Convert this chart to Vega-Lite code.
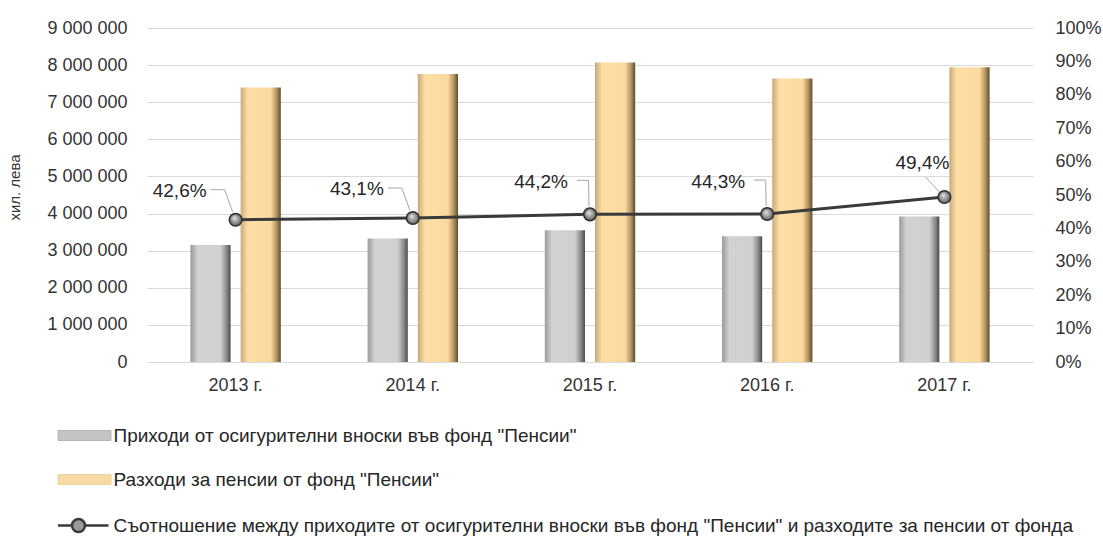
{
  "$schema": "https://vega.github.io/schema/vega-lite/v6.json",
  "width": 886,
  "height": 334,
  "autosize": "none",
  "padding": {"left": 147, "top": 28, "right": 70, "bottom": 175},
  "background": "white",
  "config": {
    "view": {"stroke": null},
    "locale": {"number": {"decimal": ",", "thousands": " ", "grouping": [3], "currency": ["", " лв."]}},
    "font": "Liberation Sans",
    "axis": {"labelFont": "Liberation Sans", "labelColor": "#333333", "labelFontSize": 18, "domain": false, "ticks": false, "titleFont": "Liberation Sans"}
  },
  "datasets": {
    "bars": [
      {"year": "2013 г.", "series": "Приходи от осигурителни вноски във фонд \"Пенсии\"", "value": 3150000},
      {"year": "2014 г.", "series": "Приходи от осигурителни вноски във фонд \"Пенсии\"", "value": 3330000},
      {"year": "2015 г.", "series": "Приходи от осигурителни вноски във фонд \"Пенсии\"", "value": 3550000},
      {"year": "2016 г.", "series": "Приходи от осигурителни вноски във фонд \"Пенсии\"", "value": 3390000},
      {"year": "2017 г.", "series": "Приходи от осигурителни вноски във фонд \"Пенсии\"", "value": 3920000},
      {"year": "2013 г.", "series": "Разходи за пенсии от фонд \"Пенсии\"", "value": 7400000},
      {"year": "2014 г.", "series": "Разходи за пенсии от фонд \"Пенсии\"", "value": 7760000},
      {"year": "2015 г.", "series": "Разходи за пенсии от фонд \"Пенсии\"", "value": 8070000},
      {"year": "2016 г.", "series": "Разходи за пенсии от фонд \"Пенсии\"", "value": 7640000},
      {"year": "2017 г.", "series": "Разходи за пенсии от фонд \"Пенсии\"", "value": 7940000}
    ],
    "ratio": [
      {"year": "2013 г.", "ratio": 0.426},
      {"year": "2014 г.", "ratio": 0.431},
      {"year": "2015 г.", "ratio": 0.442},
      {"year": "2016 г.", "ratio": 0.443},
      {"year": "2017 г.", "ratio": 0.494}
    ]
  },
  "encoding": {
    "x": {
      "field": "year", "type": "nominal", "title": null,
      "scale": {"paddingInner": 0.49, "paddingOuter": 0.245},
      "axis": {"labelAngle": 0, "labelPadding": 14, "grid": false}
    }
  },
  "layer": [
    {
      "data": {"name": "bars"},
      "encoding": {
        "xOffset": {"field": "series", "type": "nominal", "scale": {"domain": ["Приходи от осигурителни вноски във фонд \"Пенсии\"", "Разходи за пенсии от фонд \"Пенсии\""], "paddingInner": 0.2, "paddingOuter": 0}},
        "y": {
          "field": "value", "type": "quantitative", "title": "хил. лева",
          "scale": {"domain": [0, 9000000], "nice": false},
          "axis": {"orient": "left", "values": [0, 1000000, 2000000, 3000000, 4000000, 5000000, 6000000, 7000000, 8000000, 9000000], "format": ",.0f", "grid": true, "gridColor": "#d9d9d9", "gridWidth": 1, "labelPadding": 20, "titleFontSize": 15, "titleFontWeight": "normal", "titleColor": "#333333", "titlePadding": 24, "titleY": 159}
        }
      },
      "layer": [
        {
          "transform": [{"filter": "datum.value < 5000000"}],
          "mark": {"type": "bar", "fill": {"gradient": "linear", "x1": 0, "y1": 0, "x2": 1, "y2": 0, "stops": [{"offset": 0, "color": "#9a9a9a"}, {"offset": 0.18, "color": "#d2d2d2"}, {"offset": 0.75, "color": "#cfcfcf"}, {"offset": 0.9, "color": "#8a8a8a"}, {"offset": 1, "color": "#4a4a4a"}]}}
        },
        {
          "transform": [{"filter": "datum.value >= 5000000"}],
          "mark": {"type": "bar", "fill": {"gradient": "linear", "x1": 0, "y1": 0, "x2": 1, "y2": 0, "stops": [{"offset": 0, "color": "#c9a877"}, {"offset": 0.18, "color": "#fddfa6"}, {"offset": 0.75, "color": "#fbd99f"}, {"offset": 0.9, "color": "#b0925f"}, {"offset": 1, "color": "#5e4a2c"}]}}
        }
      ]
    },
    {
      "data": {"name": "ratio"},
      "encoding": {
        "y": {
          "field": "ratio", "type": "quantitative",
          "scale": {"domain": [0, 1], "nice": false},
          "axis": {"orient": "right", "title": null, "values": [0, 0.1, 0.2, 0.3, 0.4, 0.5, 0.6, 0.7, 0.8, 0.9, 1], "format": ".0%", "grid": false, "labelPadding": 22}
        }
      },
      "layer": [
        {
          "mark": {"type": "line", "strokeWidth": 3},
          "encoding": {
            "color": {
              "datum": "Съотношение между приходите от осигурителни вноски във фонд \"Пенсии\" и разходите за пенсии от фонда",
              "scale": {"domain": ["Приходи от осигурителни вноски във фонд \"Пенсии\"", "Разходи за пенсии от фонд \"Пенсии\"", "Съотношение между приходите от осигурителни вноски във фонд \"Пенсии\" и разходите за пенсии от фонда"], "range": ["#b5b5b5", "#f3d29a", "#3a3a3a"]},
              "legend": {
                "orient": "none", "legendX": -72, "legendY": 398, "direction": "vertical", "title": null, "padding": 0,
                "symbolSize": 400, "labelFontSize": 19, "labelFont": "Liberation Sans", "labelColor": "#262626", "labelLimit": 1200, "labelOffset": 19.5, "rowPadding": 24,
                "encode": {
                  "symbols": {
                    "update": {
                      "shape": {"signal": "datum.index < 2 ? 'M-2.65,-0.5H2.65V0.5H-2.65Z' : 'M-2.65,0H-1.25M0.05,0H2.4M-1.25,0A0.65,0.65 0 1,1 0.05,0A0.65,0.65 0 1,1 -1.25,0'"},
                      "fill": {"signal": "datum.index == 0 ? '#c4c4c4' : datum.index == 1 ? '#f6d9a3' : '#9a9a9a'"},
                      "stroke": {"signal": "datum.index == 0 ? '#6a6a6a' : datum.index == 1 ? '#8a6d40' : '#2e2e2e'"},
                      "strokeWidth": {"signal": "datum.index < 2 ? 1 : 2.5"},
                      "opacity": {"value": 1},
                      "size": {"value": 400}
                    }
                  }
                }
              }
            }
          }
        },
        {
          "mark": {"type": "point", "filled": true, "size": 160, "opacity": 1, "stroke": "#2e2e2e", "strokeWidth": 1.5, "fill": {"gradient": "radial", "x1": 0.4, "y1": 0.35, "r1": 0, "x2": 0.5, "y2": 0.5, "r2": 0.55, "stops": [{"offset": 0, "color": "#e6e6e6"}, {"offset": 1, "color": "#555555"}]}}
        },
        {
          "transform": [{"filter": "datum.year === '2013 г.' || datum.year === '2014 г.'"}],
          "layer": [
            {"mark": {"type": "rule", "color": "#a6a6a6", "strokeWidth": 1, "xOffset": -25, "yOffset": -30, "x2Offset": -11, "y2Offset": -30}, "encoding": {"x2": {"field": "year", "bandPosition": 0.5}, "y2": {"field": "ratio"}}},
            {"mark": {"type": "rule", "color": "#a6a6a6", "strokeWidth": 1, "xOffset": -11, "yOffset": -30, "x2Offset": -3, "y2Offset": -8}, "encoding": {"x2": {"field": "year", "bandPosition": 0.5}, "y2": {"field": "ratio"}}},
            {"mark": {"type": "text", "align": "right", "baseline": "middle", "dx": -29, "dy": -29, "fontSize": 19, "color": "#262626", "font": "Liberation Sans"}, "encoding": {"text": {"field": "ratio", "type": "quantitative", "format": ".1%"}}}
          ]
        },
        {
          "transform": [{"filter": "datum.year === '2015 г.' || datum.year === '2016 г.'"}],
          "layer": [
            {"mark": {"type": "rule", "color": "#a6a6a6", "strokeWidth": 1, "xOffset": -13, "yOffset": -34, "x2Offset": -1.5, "y2Offset": -34}, "encoding": {"x2": {"field": "year", "bandPosition": 0.5}, "y2": {"field": "ratio"}}},
            {"mark": {"type": "rule", "color": "#a6a6a6", "strokeWidth": 1, "xOffset": -1.5, "yOffset": -34, "x2Offset": -1, "y2Offset": -8}, "encoding": {"x2": {"field": "year", "bandPosition": 0.5}, "y2": {"field": "ratio"}}},
            {"mark": {"type": "text", "align": "right", "baseline": "middle", "dx": -22, "dy": -32, "fontSize": 19, "color": "#262626", "font": "Liberation Sans"}, "encoding": {"text": {"field": "ratio", "type": "quantitative", "format": ".1%"}}}
          ]
        },
        {
          "transform": [{"filter": "datum.year === '2017 г.'"}],
          "layer": [
            {"mark": {"type": "rule", "color": "#a6a6a6", "strokeWidth": 1, "xOffset": -19, "yOffset": -20, "x2Offset": -5, "y2Offset": -5}, "encoding": {"x2": {"field": "year", "bandPosition": 0.5}, "y2": {"field": "ratio"}}},
            {"mark": {"type": "text", "align": "center", "baseline": "middle", "dx": -22, "dy": -34, "fontSize": 19, "color": "#262626", "font": "Liberation Sans"}, "encoding": {"text": {"field": "ratio", "type": "quantitative", "format": ".1%"}}}
          ]
        }
      ]
    }
  ],
  "resolve": {"scale": {"y": "independent"}}
}
